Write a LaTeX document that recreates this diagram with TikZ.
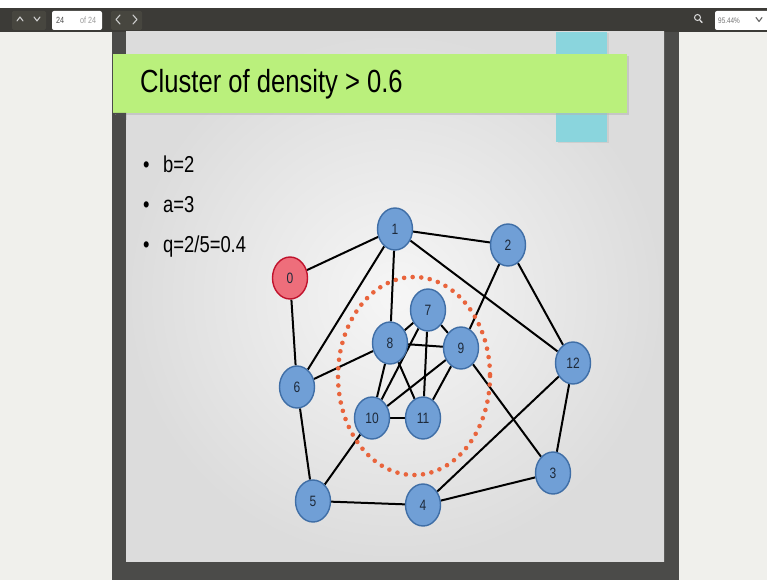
\documentclass[tikz,border=0pt]{standalone}
\usepackage{fontspec}
\setmainfont{Liberation Sans}
\newfontfamily\narrowsans[FakeStretch=0.8]{Liberation Sans}
\usetikzlibrary{shapes.geometric}

\definecolor{barbg}{HTML}{3C3B37}
\definecolor{barbtn}{HTML}{47463F}
\definecolor{panel}{HTML}{F0F0EC}
\definecolor{frame}{HTML}{4B4B49}
\definecolor{slidein}{HTML}{F6F6F6}
\definecolor{slideout}{HTML}{DCDCDC}
\definecolor{banner}{HTML}{BAF07C}
\definecolor{tab}{HTML}{8AD5DD}
\definecolor{nodefill}{HTML}{709FD6}
\definecolor{nodeline}{HTML}{3F6EA6}
\definecolor{nodetext}{HTML}{1E2A3A}
\definecolor{hotfill}{HTML}{EE6E7B}
\definecolor{hotline}{HTML}{C0122C}
\definecolor{ring}{HTML}{E9643C}

\pgfdeclarelayer{bg}
\pgfdeclarelayer{edges}
\pgfsetlayers{bg,edges,main}

\begin{document}
\begin{tikzpicture}[x=1pt,y=-1pt,
  vtx/.style={ellipse, draw=nodeline, fill=nodefill, line width=1.4pt,
    minimum width=35pt, minimum height=42pt, inner sep=0pt,
    text=nodetext, font=\narrowsans\fontsize{15}{15}\selectfont},
  hot/.style={vtx, draw=hotline, fill=hotfill},
  link/.style={line width=2pt, black},
  chev/.style={line width=1.1pt, draw=#1, line cap=round, line join=round},
  chev/.default={black!20},
  bullet/.style={anchor=base west, font=\narrowsans\fontsize{23}{23}\selectfont}]
\useasboundingbox (0,0) rectangle (767,580);

% ---------------- viewer window ----------------
\begin{pgfonlayer}{bg}
\fill[white] (0,0) rectangle (767,8);
\fill[barbg] (0,8) rectangle (767,32);
\fill[panel] (0,32) rectangle (112,580);
\fill[panel] (679,32) rectangle (767,580);
\fill[frame] (112,32) rectangle (679,580);
\shade[inner color=slidein, outer color=slideout] (126,32) rectangle (664,561);

% toolbar controls
\fill[barbtn, rounded corners=1.5pt] (12,11) rectangle (46,30);
\draw[chev] (17,21) -- (20,17) -- (23,21);
\draw[chev] (34,17) -- (37,21) -- (40,17);
\fill[white, rounded corners=2pt] (52,11) rectangle (102,30);
\node[anchor=base west, inner sep=0pt, font=\narrowsans\fontsize{9}{9}\selectfont, text=black!70] (pgnum) at (56,24) {24};
\node[anchor=base west, inner sep=0pt, font=\narrowsans\fontsize{9}{9}\selectfont, text=black!40] (pgtot) at (80,24) {of 24};
\fill[barbtn, rounded corners=1.5pt] (111,11) rectangle (142,30);
\draw[chev] (120,15) -- (116,19.5) -- (120,24);
\draw[chev] (133,15) -- (137,19.5) -- (133,24);
\draw[line width=1pt, black!15] (697.5,17.5) circle [radius=3];
\draw[line width=1.4pt, black!15, line cap=round] (699.8,20) -- (702,22.5);
\fill[white, rounded corners=2pt] (715,11) rectangle (770,30);
\node[anchor=base west, inner sep=0pt, font=\narrowsans\fontsize{8}{8}\selectfont, text=black!55] (zoomlvl) at (718,23.5) {95.44\%};
\draw[chev=black!60] (756,17.5) -- (759,21.5) -- (762,17.5);

% slide decoration
\fill[black!25, opacity=0.5] (557.5,33) rectangle (608.5,143.5);
\fill[tab] (556,32) rectangle (607,142);
\fill[black!30, opacity=0.5] (114.5,56) rectangle (629,115);
\fill[banner] (113,54) rectangle (627,113);
\fill[black!70] (113,113) -- (126,113) -- (126,120) -- cycle;
\end{pgfonlayer}

% ---------------- title and bullets ----------------
\node[anchor=base west, inner sep=0pt, font=\narrowsans\fontsize{32}{32}\selectfont] (title) at (140,93) {Cluster of density > 0.6};
\node[bullet, inner sep=0pt] (b1) at (143,172) {•};
\node[bullet, inner sep=0pt] (t1) at (163,172) {b=2};
\node[bullet, inner sep=0pt] (b2) at (143,212) {•};
\node[bullet, inner sep=0pt] (t2) at (163,212) {a=3};
\node[bullet, inner sep=0pt] (b3) at (143,252) {•};
\node[bullet, inner sep=0pt] (t3) at (163,252) {q=2/5=0.4};

% ---------------- graph ----------------
\node[hot] (n0)  at (290,278) {0};
\node[vtx] (n1)  at (395,229) {1};
\node[vtx] (n2)  at (508,245) {2};
\node[vtx] (n3)  at (553,473) {3};
\node[vtx] (n4)  at (423,505) {4};
\node[vtx] (n5)  at (313,501) {5};
\node[vtx] (n6)  at (297,387) {6};
\node[vtx] (n7)  at (428,310) {7};
\node[vtx] (n8)  at (390,343) {8};
\node[vtx] (n9)  at (461,348) {9};
\node[vtx] (n10) at (372,418) {10};
\node[vtx] (n11) at (423,418) {11};
\node[vtx] (n12) at (573,363) {12};

\begin{pgfonlayer}{edges}
\foreach \a/\b in {0/1,0/6,1/2,1/6,1/8,1/12,2/9,2/12,3/9,3/12,3/4,4/5,4/12,5/6,5/10,6/8,
                   7/8,7/9,7/10,7/11,8/9,8/10,8/11,9/10,9/11,10/11}
  \draw[link] (n\a) -- (n\b);
% dense cluster marker
\draw[ring, line width=4.6pt, line cap=round, dash pattern=on 0pt off 8.6pt]
  (414,376) ellipse [x radius=76, y radius=99];
\end{pgfonlayer}
\end{tikzpicture}
\end{document}
